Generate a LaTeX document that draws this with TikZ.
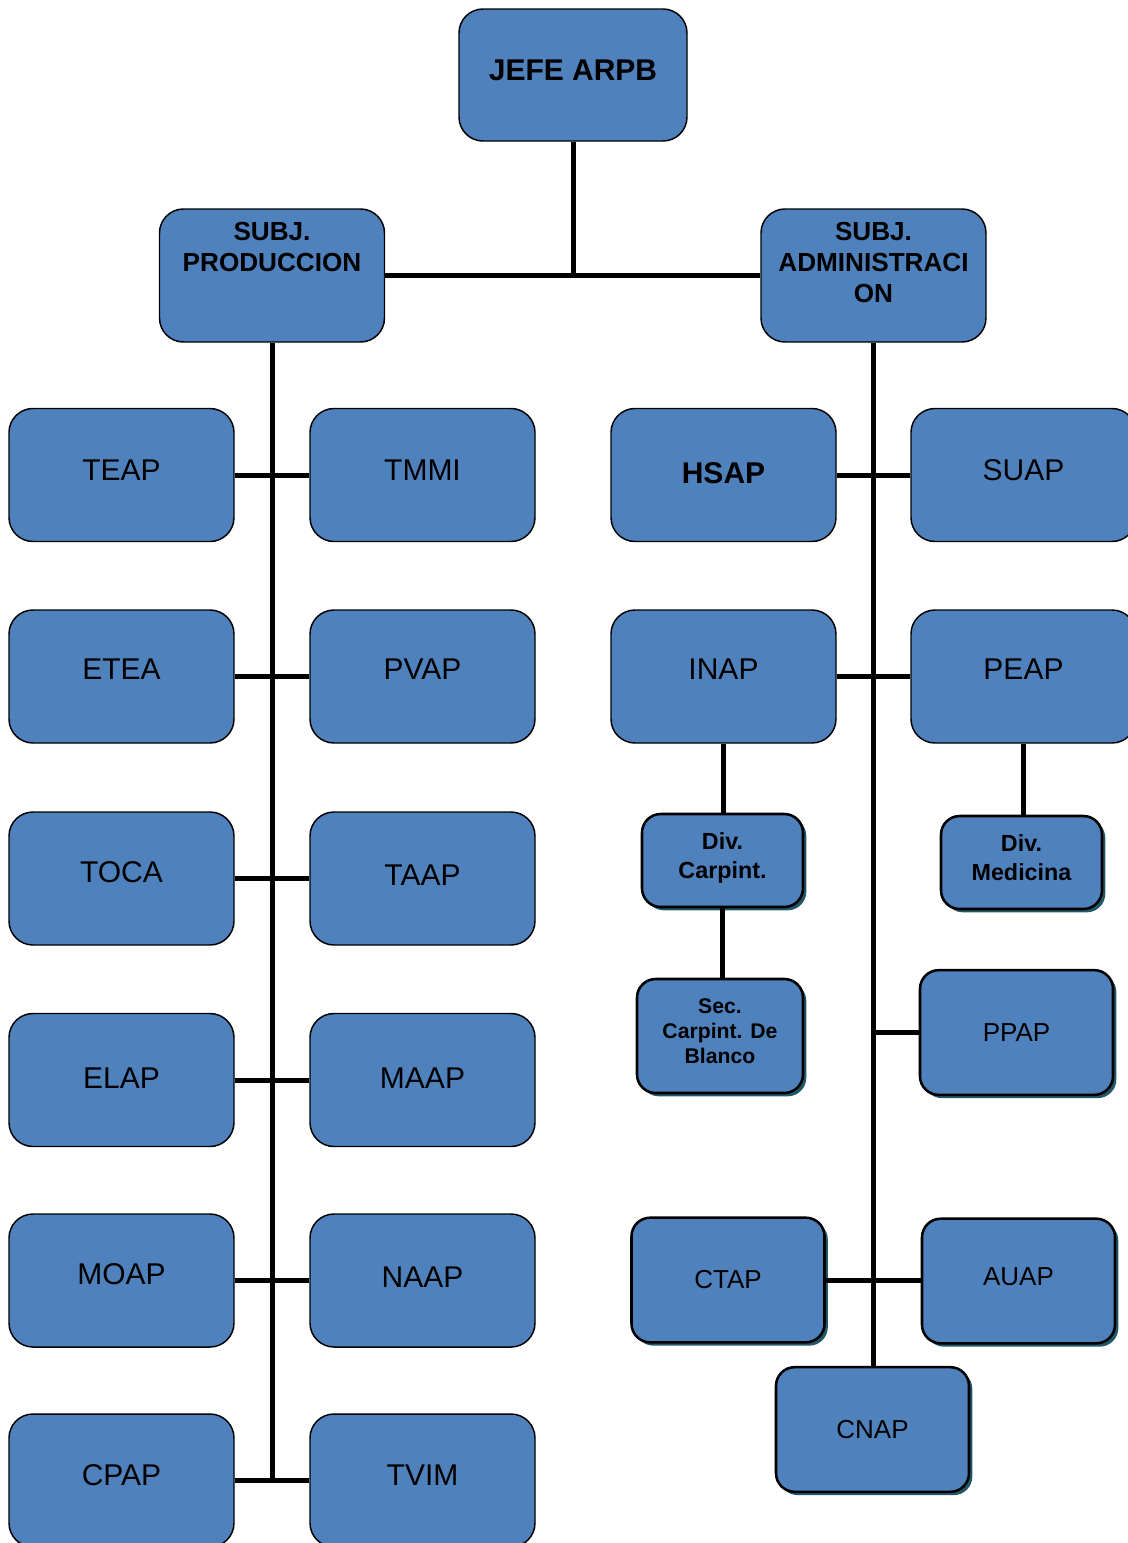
\documentclass[tikz,border=0pt]{standalone}
\usepackage{fontspec}
\setmainfont{Liberation Sans}
\usetikzlibrary{shadows}
\definecolor{mblue}{HTML}{4F81BD}
\definecolor{mshade}{HTML}{215868}
\tikzset{mbox/.style={draw,fill=mblue,rounded corners=18pt,line width=1.1pt,align=center,inner sep=2pt}}
\tikzset{mbig/.style={mbox,minimum width=168.75pt,minimum height=99.75pt,text depth=7.5pt,font=\fontsize{22.5}{27}\selectfont}}
\tikzset{mshad/.style={mbox,rounded corners=14pt,line width=1.9pt,drop shadow={shadow xshift=2.5pt,shadow yshift=-2.5pt,fill=mshade,opacity=1}}}
\tikzset{mmid/.style={mshad,minimum width=144.75pt,minimum height=93.5pt,font=\fontsize{19.5}{23}\selectfont}}
\tikzset{mdiv/.style={mshad,minimum width=120.75pt,minimum height=69.75pt,font=\bfseries\fontsize{17.5}{21.75}\selectfont}}
\tikzset{mline/.style={line width=3.75pt}}

\begin{document}
\begin{tikzpicture}[x=0.75pt,y=-0.75pt]
\useasboundingbox (0,0) rectangle (1128,1543);
\clip (0,0) rectangle (1128,1543);

% top
\node[mbig,minimum width=171pt,minimum height=99pt,font=\bfseries\fontsize{22.5}{27}\selectfont] (jefe) at (573,75) {JEFE ARPB};
\node[mbig,text depth=19.5pt,font=\bfseries\fontsize{19.6}{23.25}\selectfont] (subjprod) at (272,275.5) {SUBJ.\\PRODUCCION\\~};
\node[mbig,text depth=19.5pt,font=\bfseries\fontsize{19.6}{23.25}\selectfont] (subjadm) at (873.5,275.5) {SUBJ.\\ADMINISTRACI\\ON};

% produccion
\node[mbig] (teap) at (121.5,475) {TEAP};
\node[mbig] (tmmi) at (422.5,475) {TMMI};
\node[mbig,text depth=11.25pt] (etea) at (121.5,676.5) {ETEA};
\node[mbig,text depth=11.25pt] (pvap) at (422.5,676.5) {PVAP};
\node[mbig,text depth=9.75pt] (toca) at (121.5,878.5) {TOCA};
\node[mbig,text depth=5.25pt] (taap) at (422.5,878.5) {TAAP};
\node[mbig,text depth=3pt] (elap) at (121.5,1080) {ELAP};
\node[mbig,text depth=3pt] (maap) at (422.5,1080) {MAAP};
\node[mbig,text depth=9.75pt] (moap) at (121.5,1280.5) {MOAP};
\node[mbig,text depth=5.25pt] (naap) at (422.5,1280.5) {NAAP};
\node[mbig,text depth=8.25pt] (cpap) at (121.5,1480.5) {CPAP};
\node[mbig,text depth=8.25pt] (tvim) at (422.5,1480.5) {TVIM};

% administracion
\node[mbig,text depth=3pt,font=\bfseries\fontsize{22.5}{27}\selectfont] (hsap) at (723.5,475) {HSAP};
\node[mbig] (suap) at (1023.5,475) {SUAP};
\node[mbig,text depth=11.25pt] (inap) at (723.5,676.5) {INAP};
\node[mbig,text depth=11.25pt] (peap) at (1023.5,676.5) {PEAP};
\node[mdiv,text depth=6.7pt] (divcarp) at (722.5,860.5) {Div.\\Carpint.};
\node[mdiv,minimum width=124.5pt,minimum height=85.5pt,text depth=7.5pt,font=\bfseries\fontsize{15.9}{18.75}\selectfont] (seccarp) at (720,1036) {Sec.\\Carpint. De\\Blanco};
\node[mdiv,text depth=6.75pt] (divmed) at (1021.5,862.5) {Div.\\Medicina};
\node[mmid] (ppap) at (1016.5,1032.5) {PPAP};
\node[mmid] (ctap) at (728,1280) {CTAP};
\node[mmid,text depth=6pt] (auap) at (1018.5,1281) {AUAP};
\node[mmid] (cnap) at (872.5,1429.5) {CNAP};

% connectors
\draw[mline] (jefe.south) -- (jefe.south |- subjprod.east);
\draw[mline] (subjprod.east) -- (subjadm.west);
\draw[mline] (subjprod.south) -- (subjprod.south |- cpap.east);
\draw[mline] (teap.east) -- (tmmi.west);
\draw[mline] (etea.east) -- (pvap.west);
\draw[mline] (toca.east) -- (taap.west);
\draw[mline] (elap.east) -- (maap.west);
\draw[mline] (moap.east) -- (naap.west);
\draw[mline] (cpap.east) -- (tvim.west);

\draw[mline] (subjadm.south) -- (subjadm.south |- cnap.north);
\draw[mline] (hsap.east) -- (suap.west);
\draw[mline] (inap.east) -- (peap.west);
\draw[mline] (inap.south) -- (inap.south |- divcarp.north);
\draw[mline] (divcarp.south) -- (divcarp.south |- seccarp.north);
\draw[mline] (peap.south) -- (peap.south |- divmed.north);
\draw[mline] (ppap.west) -- (ppap.west -| subjadm.south);
\draw[mline] (ctap.east) -- (ctap.east -| auap.west);

\end{tikzpicture}
\end{document}
